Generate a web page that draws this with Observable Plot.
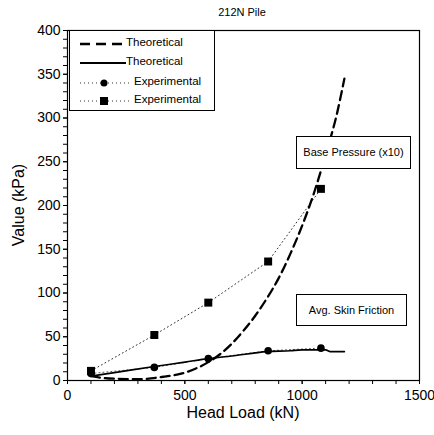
<!DOCTYPE html>
<html>
<head>
<meta charset="utf-8">
<script src="https://cdn.jsdelivr.net/npm/d3@7"></script>
<script src="https://cdn.jsdelivr.net/npm/@observablehq/plot@0.6"></script>
<style>
  body { margin: 0; background: #fff; font-family: "Liberation Sans", Arial, sans-serif; }
  #wrap { position: relative; width: 434px; height: 435px; overflow: hidden; }
  .title { position: absolute; left: 0; width: 484px; top: 6px; text-align: center; font-size: 11px; }
  .xlabel { position: absolute; left: 67px; width: 352px; top: 404px; text-align: center; font-size: 16px; }
  .ylabel { position: absolute; left: 19px; top: 205px; font-size: 16px; transform: translate(-50%, -50%) rotate(-90deg); white-space: nowrap; }
  .legend { position: absolute; left: 69px; top: 30px; width: 144px; height: 79px; border: 1px solid #000; background: #fff; font-size: 11.5px; }
  .legend .row { position: absolute; left: 0; height: 14px; }
  .legend svg { position: absolute; left: 10px; top: 0; }
  .legend span { position: absolute; white-space: nowrap; }
  .note { position: absolute; border: 1px solid #000; background: #fff; font-size: 11px; text-align: center; box-sizing: border-box; white-space: nowrap; }
</style>
</head>
<body>
<div id="wrap">
  <div class="title">212N Pile</div>
  <div id="chart"></div>
  <div class="legend">
    <div class="row" style="top:6px;">
      <svg width="46" height="14"><line x1="0" y1="7" x2="46" y2="7" stroke="#000" stroke-width="2.5" stroke-dasharray="10,6"/></svg>
      <span style="left:56px; top:-1px;">Theoretical</span>
    </div>
    <div class="row" style="top:25px;">
      <svg width="46" height="14"><line x1="0" y1="7" x2="46" y2="7" stroke="#000" stroke-width="2"/></svg>
      <span style="left:56px; top:-1px;">Theoretical</span>
    </div>
    <div class="row" style="top:45px;">
      <svg width="52" height="14"><line x1="0" y1="7" x2="52" y2="7" stroke="#333" stroke-width="1" stroke-dasharray="1,3"/><circle cx="24" cy="7" r="3.5" fill="#000"/></svg>
      <span style="left:64px; top:-1px;">Experimental</span>
    </div>
    <div class="row" style="top:63px;">
      <svg width="52" height="14"><line x1="0" y1="7" x2="52" y2="7" stroke="#333" stroke-width="1" stroke-dasharray="1,3"/><rect x="20" y="3" width="8" height="8" fill="#000"/></svg>
      <span style="left:64px; top:-1px;">Experimental</span>
    </div>
  </div>
  <div class="note" style="left:296px; top:136px; width:115px; height:33px; line-height:31px;">Base Pressure (x10)</div>
  <div class="note" style="left:296px; top:294px; width:111px; height:32px; line-height:30px;">Avg. Skin Friction</div>
  <div class="xlabel">Head Load (kN)</div>
  <div class="ylabel">Value (kPa)</div>
</div>
<script>
// Experimental measurements
const headLoad = [100, 370, 600, 855, 1080];
const basePressureExp = [11, 52, 89, 136, 219];
const skinFrictionExp = [8, 15, 25, 34, 37];

// Theoretical base pressure (x10)
const theoryBaseLoad = [100, 150, 200, 300, 400, 500, 550, 600, 650, 700, 750, 800, 850, 900, 950, 1000, 1050, 1100, 1150, 1180];
const theoryBase     = [5,   3,   2,   1.5, 4,   9,   14,  21,  30,  42,  57,  74,  94,  117, 145, 177, 214, 258, 307, 345];

// Theoretical average skin friction
const theorySkinLoad = [100, 200, 370, 500, 600, 700, 850, 950, 1000, 1100, 1120, 1180];
const theorySkin     = [5,   9,   16,  21,  25,  28,  33,  34,  35,   35,   33,   33];

const xTicksMajor = [0, 500, 1000, 1500];
const yTicksMajor = [0, 50, 100, 150, 200, 250, 300, 350, 400];

const tb = theoryBaseLoad.map((x, i) => ({x, y: theoryBase[i]}));
const ts = theorySkinLoad.map((x, i) => ({x, y: theorySkin[i]}));
const eb = headLoad.map((x, i) => ({x, y: basePressureExp[i]}));
const es = headLoad.map((x, i) => ({x, y: skinFrictionExp[i]}));

const chart = Plot.plot({
  width: 434,
  height: 435,
  marginLeft: 67,
  marginRight: 15,
  marginTop: 30,
  marginBottom: 55,
  style: {fontSize: "14px", fontFamily: "'Liberation Sans', Arial, sans-serif", color: "#000", background: "#fff", overflow: "visible"},
  x: {domain: [0, 1500]},
  y: {domain: [0, 400]},
  marks: [
    Plot.axisX({ticks: d3.range(0, 1501, 100), tickSize: 4, tickFormat: () => "", label: null}),
    Plot.axisX({ticks: xTicksMajor, tickSize: 4, tickPadding: 6, tickFormat: d3.format("d"), label: null}),
    Plot.axisY({ticks: d3.range(0, 401, 10), tickSize: 4, tickFormat: () => "", label: null}),
    Plot.axisY({ticks: yTicksMajor, tickSize: 4, tickPadding: 3, tickFormat: d3.format("d"), label: null}),
    Plot.line(eb, {x: "x", y: "y", stroke: "#333", strokeWidth: 1, strokeDasharray: "1,3"}),
    Plot.line(es, {x: "x", y: "y", stroke: "#555", strokeWidth: 1, strokeDasharray: "1,3"}),
    Plot.line(ts, {x: "x", y: "y", stroke: "#000", strokeWidth: 1.6, curve: "monotone-x"}),
    Plot.line(tb, {x: "x", y: "y", stroke: "#000", strokeWidth: 2.3, strokeDasharray: "9,5", curve: "monotone-x"}),
    Plot.dot(eb, {x: "x", y: "y", symbol: "square", r: 4.5, fill: "#000"}),
    Plot.dot(es, {x: "x", y: "y", symbol: "circle", r: 3.8, fill: "#000"}),
    Plot.frame({stroke: "#000", strokeWidth: 1.2})
  ]
});
document.getElementById("chart").appendChild(chart);
</script>
</body>
</html>
